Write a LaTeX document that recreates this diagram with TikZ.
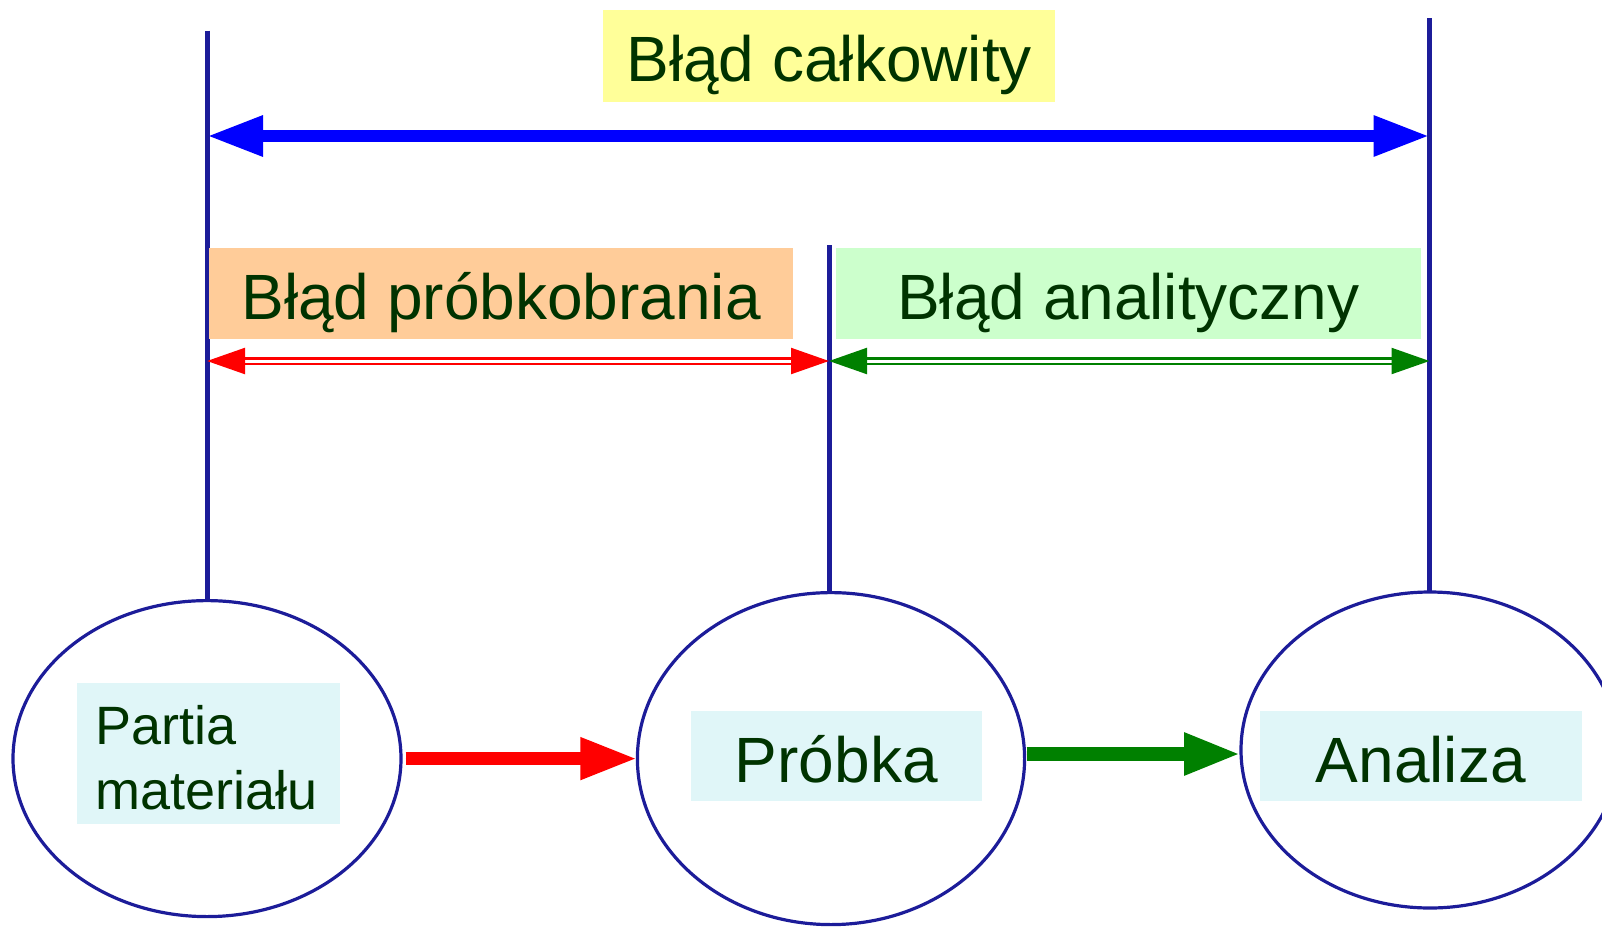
\documentclass[tikz,border=0pt]{standalone}
\usepackage{fontspec}
\setmainfont{Liberation Sans}
\usetikzlibrary{arrows.meta,shapes.geometric}
\definecolor{navy}{RGB}{28,28,153}
\definecolor{txt}{RGB}{0,51,0}
\definecolor{ybox}{RGB}{255,255,153}
\definecolor{obox}{RGB}{255,204,153}
\definecolor{gbox}{RGB}{204,255,204}
\definecolor{cbox}{RGB}{224,246,248}
\definecolor{darkgr}{RGB}{0,128,0}
\tikzset{
  ell/.style={ellipse, draw=navy, line width=1.6pt, inner sep=0pt, outer sep=0pt},
  vline/.style={draw=navy, line width=2.5pt},
  lbox/.style={rectangle, inner sep=0pt, outer sep=0pt, text=txt,
    font=\fontsize{32}{38}\selectfont, text height=30pt, text depth=4pt},
  bigarrow/.style={draw=blue, line width=6pt,
    {Triangle[length=28pt,width=19pt]}-{Triangle[length=28pt,width=19pt]}},
  dblarrow/.style={line width=1.1pt, double=white, double distance=1.5pt,
    {Triangle[length=19pt,width=13pt]}-{Triangle[length=19pt,width=13pt]}},
  flowarrow/.style={line width=#1, -{Triangle[length=28.5pt,width=19.5pt]}},
}
\begin{document}
\begin{tikzpicture}[x=0.5pt,y=-0.5pt]
\useasboundingbox (0,0) rectangle (1602,927);
\clip (0,0) rectangle (1602,927);

% ellipses
\node[ell, minimum width=194pt, minimum height=158pt] (e1) at (207,758.6) {};
\node[ell, minimum width=193.6pt, minimum height=166pt] (e2) at (831,758.6) {};
\node[ell, minimum width=189pt, minimum height=158pt] (e3) at (1430,750) {};

% vertical lines
\coordinate (t1) at (207,30.6);
\coordinate (t2) at (829,245);
\coordinate (t3) at (1429.5,18.4);
\draw[vline] (t1) -- (e1.north);
\draw[vline] (t2) -- (t2 |- e2.north);
\draw[vline] (t3) -- (t3 |- e3.north);

% label boxes
\node[lbox, fill=ybox, minimum width=225.85pt, minimum height=45.85pt] (total) at (829.2,55.85) {Błąd całkowity};
\node[lbox, fill=obox, minimum width=291.7pt, minimum height=45.45pt] (samp) at (501.1,293.75) {Błąd próbkobrania};
\node[lbox, fill=gbox, minimum width=292.75pt, minimum height=45.45pt] (anal) at (1128.45,293.75) {Błąd analityczny};

% horizontal measuring arrows
\coordinate (bl) at (t1 |- 0,136);
\coordinate (br) at (t3 |- 0,136);
\coordinate (rl) at (t1 |- 0,361);
\coordinate (rm) at (t2 |- 0,361);
\coordinate (rr) at (t3 |- 0,361);
\draw[bigarrow] (bl) -- (br);
\draw[dblarrow, draw=red, fill=red] (rl) -- (rm);
\draw[dblarrow, draw=darkgr, fill=darkgr] (rm) -- (rr);

% text boxes in ellipses
\node[rectangle, fill=cbox, inner xsep=9.15pt, inner ysep=0pt, minimum height=70.65pt,
  text=txt, font=\fontsize{27}{32.5}\selectfont, text height=30pt, text depth=39.35pt]
  (partia) at (208.35,753.35)
  {\makebox[113.2pt][l]{\begin{tabular}[t]{@{}l@{}}Partia\\materiału\end{tabular}}};
\node[lbox, fill=cbox, minimum width=145.55pt, minimum height=45pt] (probka) at (836.25,756) {Próbka};
\node[lbox, fill=cbox, minimum width=160.9pt, minimum height=45pt] (analiza) at (1420.7,756) {Analiza};

% flow arrows
\draw[flowarrow=6.5pt, draw=red, fill=red, shorten <=2.25pt] (e1.east) -- (e2.west);
\draw[flowarrow=7pt, draw=darkgr, fill=darkgr, shorten <=1pt] ([yshift=-2pt]e2.east |- e3.west) -- ([yshift=-2pt]e3.west);
\end{tikzpicture}
\end{document}
